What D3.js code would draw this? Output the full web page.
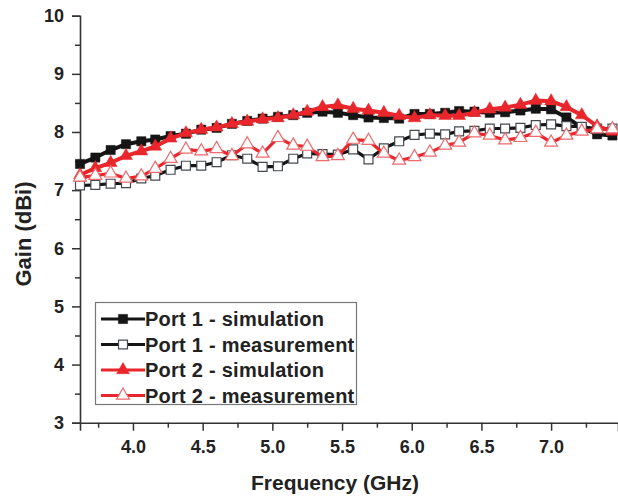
<!DOCTYPE html>
<html>
<head>
<meta charset="utf-8">
<script src="https://cdn.jsdelivr.net/npm/d3@7"></script>
<style>
  html, body { margin: 0; padding: 0; background: #fff; }
  svg { display: block; font-family: "Liberation Sans", Arial, sans-serif; }
</style>
</head>
<body>
<svg id="chart" width="618" height="497"></svg>
<script>
// Frequency sweep points (GHz)
const freq = [3.62, 3.73, 3.84, 3.95, 4.06, 4.16, 4.27, 4.38, 4.49, 4.60,
              4.71, 4.82, 4.93, 5.04, 5.15, 5.25, 5.36, 5.47, 5.58, 5.69,
              5.80, 5.91, 6.02, 6.13, 6.24, 6.34, 6.45, 6.56, 6.67, 6.78,
              6.89, 7.00, 7.11, 7.22, 7.33, 7.44];

// Gain (dBi)
const port1Sim = [7.45, 7.56, 7.69, 7.79, 7.84, 7.87, 7.93, 7.97, 8.04, 8.07,
                  8.14, 8.19, 8.23, 8.26, 8.29, 8.33, 8.35, 8.33, 8.29, 8.25,
                  8.24, 8.23, 8.31, 8.31, 8.33, 8.36, 8.35, 8.33, 8.34, 8.37,
                  8.40, 8.39, 8.25, 8.08, 7.96, 7.94];
const port1Meas = [7.08, 7.09, 7.11, 7.12, 7.20, 7.25, 7.35, 7.42, 7.42, 7.48,
                   7.60, 7.54, 7.40, 7.41, 7.54, 7.63, 7.62, 7.61, 7.70, 7.53,
                   7.72, 7.84, 7.95, 7.97, 7.96, 8.01, 8.02, 8.06, 8.06, 8.07,
                   8.12, 8.13, 8.10, 8.09, 8.06, 8.06];
const port2Sim = [7.26, 7.38, 7.47, 7.59, 7.67, 7.75, 7.89, 7.98, 8.04, 8.08,
                  8.14, 8.18, 8.22, 8.24, 8.29, 8.35, 8.43, 8.46, 8.40, 8.37,
                  8.33, 8.28, 8.24, 8.29, 8.28, 8.28, 8.33, 8.39, 8.42, 8.47,
                  8.54, 8.53, 8.43, 8.29, 8.10, 8.01];
const port2Meas = [7.22, 7.25, 7.29, 7.20, 7.24, 7.37, 7.54, 7.70, 7.67, 7.71,
                   7.59, 7.79, 7.63, 7.90, 7.77, 7.75, 7.57, 7.59, 7.87, 7.85,
                   7.63, 7.51, 7.57, 7.65, 7.77, 7.82, 7.98, 7.94, 7.86, 7.90,
                   7.99, 7.82, 7.94, 8.01, 8.05, 8.05];

// Axis ticks
const xMajorTicks = [4.0, 4.5, 5.0, 5.5, 6.0, 6.5, 7.0];
const xMinorTicks = [3.75, 4.25, 4.75, 5.25, 5.75, 6.25, 6.75, 7.25];
const yMajorTicks = [3, 4, 5, 6, 7, 8, 9, 10];
const yMinorTicks = [3.5, 4.5, 5.5, 6.5, 7.5, 8.5, 9.5];

const seriesNames = ["Port 1 - simulation", "Port 1 - measurement",
                     "Port 2 - simulation", "Port 2 - measurement"];

const BLACK = "#151515", RED = "#e8262b";

const series = [
  { name: seriesNames[0], values: port1Sim,  color: BLACK, shape: "square",   filled: true,  width: 4 },
  { name: seriesNames[1], values: port1Meas, color: BLACK, shape: "square",   filled: false, width: 3.2 },
  { name: seriesNames[2], values: port2Sim,  color: RED,   shape: "triangle", filled: true,  width: 4 },
  { name: seriesNames[3], values: port2Meas, color: RED,   shape: "triangle", filled: false, width: 3.2 }
];

const svg = d3.select("#chart");
const plotLeft = 80, plotRight = 618, plotTop = 15.7, plotBottom = 422.7;

const x = d3.scaleLinear().domain([3.62, 7.48]).range([plotLeft, plotRight]);
const y = d3.scaleLinear().domain([3, 10]).range([plotBottom, plotTop]);

const axisColor = "#333";

// X axis: major + minor ticks
svg.append("g").attr("transform", `translate(0,${plotBottom})`)
  .call(d3.axisBottom(x).tickValues(xMajorTicks).tickSize(8).tickPadding(10)
        .tickFormat(d3.format(".1f")));
svg.append("g").attr("transform", `translate(0,${plotBottom})`)
  .call(d3.axisBottom(x).tickValues(xMinorTicks).tickSize(5).tickFormat(""))
  .call(g => g.select(".domain").remove());

// Y axis: major + minor ticks
svg.append("g").attr("transform", `translate(${plotLeft},0)`)
  .call(d3.axisLeft(y).tickValues(yMajorTicks).tickSize(8).tickPadding(8)
        .tickFormat(d3.format("d")));
svg.append("g").attr("transform", `translate(${plotLeft},0)`)
  .call(d3.axisLeft(y).tickValues(yMinorTicks).tickSize(5).tickFormat(""))
  .call(g => g.select(".domain").remove());

svg.selectAll(".domain").attr("stroke", axisColor).attr("stroke-width", 1.6);
svg.selectAll(".tick line").attr("stroke", axisColor).attr("stroke-width", 1.5);
svg.selectAll(".tick text")
  .attr("fill", "#222").attr("font-size", 18).attr("font-weight", "bold")
  .attr("font-family", "Liberation Sans, Arial, sans-serif");

// Axis titles
svg.append("text")
  .attr("x", 335).attr("y", 490)
  .attr("text-anchor", "middle")
  .attr("font-size", 21).attr("font-weight", "bold").attr("fill", "#222")
  .text("Frequency (GHz)");
svg.append("text")
  .attr("transform", "translate(31,234) rotate(-90)")
  .attr("text-anchor", "middle")
  .attr("font-size", 22).attr("font-weight", "bold").attr("fill", "#222")
  .text("Gain (dBi)");

// Marker path generators
const squarePath = d3.symbol().type(d3.symbolSquare).size(85);
const squareOpen = d3.symbol().type(d3.symbolSquare).size(80);
const trianglePath = d3.symbol().type(d3.symbolTriangle).size(72);

function drawMarker(sel, s) {
  if (s.shape === "square") {
    sel.attr("d", s.filled ? squarePath() : squareOpen())
      .attr("fill", s.filled ? s.color : "#fff")
      .attr("stroke", s.filled ? s.color : "#454a50")
      .attr("stroke-width", s.filled ? 0.5 : 1.2);
  } else {
    sel.attr("d", trianglePath())
      .attr("fill", s.filled ? s.color : "#fff")
      .attr("stroke", s.filled ? s.color : "#ee6a6d")
      .attr("stroke-width", s.filled ? 0.5 : 1.2);
  }
}

const line = d3.line().x(d => x(d[0])).y(d => y(d[1]));

const plot = svg.append("g");
series.forEach(s => {
  const pts = freq.map((f, i) => [f, s.values[i]]);
  const g = plot.append("g");
  g.append("path").datum(pts)
    .attr("d", line).attr("fill", "none")
    .attr("stroke", s.color).attr("stroke-width", s.width)
    .attr("stroke-linejoin", "round");
  g.selectAll("path.m").data(pts).join("path").attr("class", "m")
    .attr("transform", d => `translate(${x(d[0])},${y(d[1])})`)
    .call(sel => drawMarker(sel, s));
});

// Legend
const legend = svg.append("g");
legend.append("rect")
  .attr("x", 95.5).attr("y", 302.5).attr("width", 261).attr("height", 102)
  .attr("fill", "#fff").attr("stroke", "#777").attr("stroke-width", 1.2);
series.forEach((s, i) => {
  const cy = 319 + i * 25.5;
  const row = legend.append("g");
  row.append("line").attr("x1", 101).attr("x2", 145).attr("y1", cy).attr("y2", cy)
    .attr("stroke", s.color).attr("stroke-width", 3);
  row.append("path").attr("transform", `translate(123,${cy})`)
    .call(sel => drawMarker(sel, s));
  row.append("text").attr("x", 145).attr("y", cy + 7)
    .attr("font-size", 20).attr("font-weight", "bold").attr("fill", "#222")
    .attr("letter-spacing", 0.25)
    .text(s.name);
});
</script>
</body>
</html>
